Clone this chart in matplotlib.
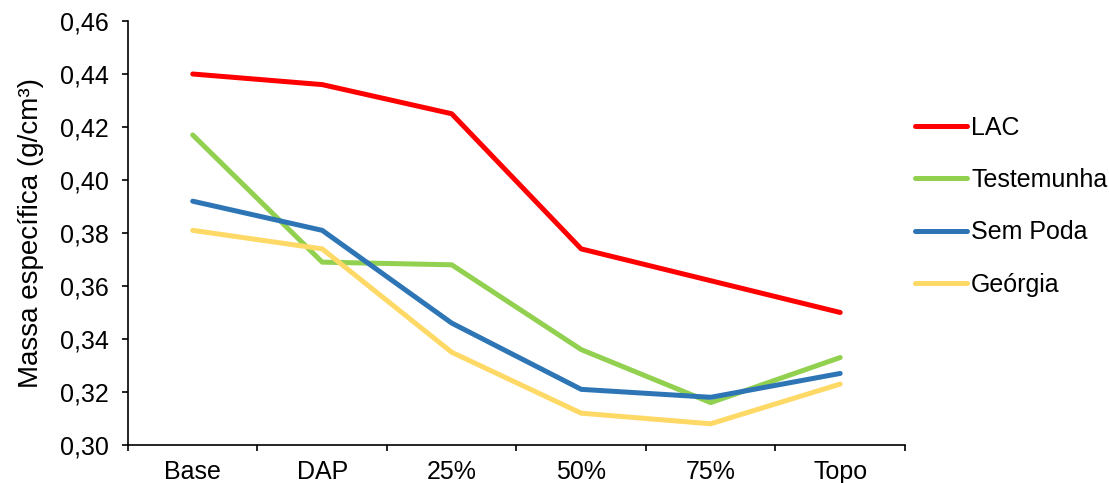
import numpy as np
import matplotlib.pyplot as plt
from matplotlib.ticker import FixedLocator, FuncFormatter

plt.rcParams['font.family'] = ['Liberation Sans', 'DejaVu Sans']

posicoes = ['Base', 'DAP', '25%', '50%', '75%', 'Topo']
lac = [0.440, 0.436, 0.425, 0.374, 0.362, 0.350]
testemunha = [0.417, 0.369, 0.368, 0.336, 0.316, 0.333]
sem_poda = [0.392, 0.381, 0.346, 0.321, 0.318, 0.327]
georgia = [0.381, 0.374, 0.335, 0.312, 0.308, 0.323]

series = [
    ('LAC', lac, '#FF0000'),
    ('Testemunha', testemunha, '#92D050'),
    ('Sem Poda', sem_poda, '#2E75B6'),
    ('Geórgia', georgia, '#FFD966'),
]

fig = plt.figure(figsize=(11.09, 4.83), dpi=100)
ax = fig.add_axes([0.1154, 0.0787, 0.7006, 0.8778])

x = np.arange(len(posicoes))
for nome, vals, cor in series:
    ax.plot(x, vals, color=cor, lw=3.6, label=nome, solid_capstyle='round',
            solid_joinstyle='round')

ax.set_xlim(-0.5, len(posicoes) - 0.5)
ax.set_ylim(0.30, 0.46)
ax.set_yticks(np.arange(0.30, 0.4601, 0.02))
ax.yaxis.set_major_formatter(FuncFormatter(lambda v, p: f'{v:.2f}'.replace('.', ',')))
ax.set_xticks(x)
ax.set_xticklabels(posicoes)
ax.xaxis.set_minor_locator(FixedLocator(np.arange(-0.5, len(posicoes), 1.0)))
ax.tick_params(axis='x', which='major', length=0, pad=11, labelsize=18)
ax.tick_params(axis='x', which='minor', length=4.5, width=1.2, direction='out')
ax.tick_params(axis='y', length=4.5, width=1.2, pad=9.6, labelsize=18)

for s in ['top', 'right']:
    ax.spines[s].set_visible(False)
for s in ['left', 'bottom']:
    ax.spines[s].set_linewidth(1.2)

ax.set_ylabel('Massa específica (g/cm³)', fontsize=20, labelpad=11)

ax.legend(loc='upper left', bbox_to_anchor=(0.816, 0.781), bbox_transform=fig.transFigure,
          frameon=False, fontsize=18, handlelength=2.1, handletextpad=0.15,
          labelspacing=1.13, borderaxespad=0)

fig.savefig('out.png', dpi=100)
